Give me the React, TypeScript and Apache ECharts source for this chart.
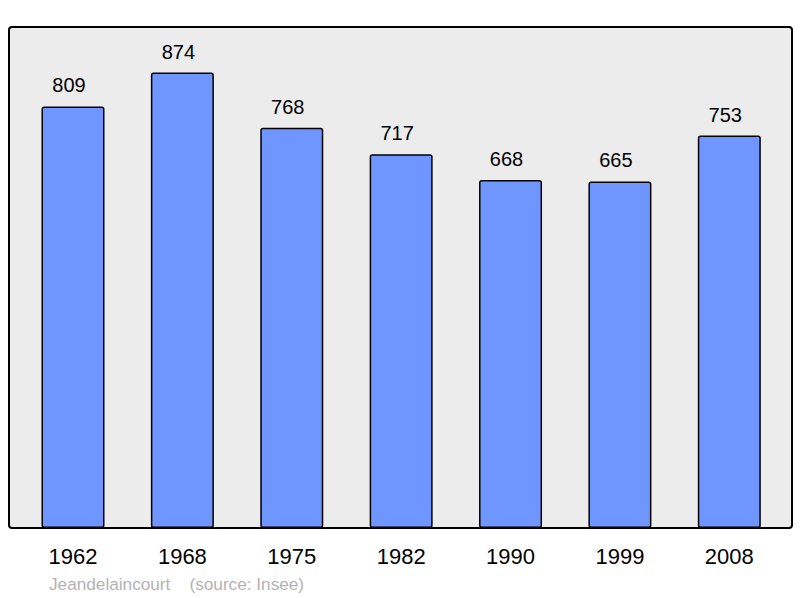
import React, { useEffect, useRef } from "react";
import * as echarts from "echarts";

const years = ["1962", "1968", "1975", "1982", "1990", "1999", "2008"];
const population = [809, 874, 768, 717, 668, 665, 753];
const footnote = "Jeandelaincourt    (source: Insee)";

export default function App() {
  const ref = useRef<HTMLDivElement>(null);
  useEffect(() => {
    if (!ref.current) return;
    const chart = echarts.init(ref.current, null, { renderer: "svg" });
    const maxVal = Math.max(...population) * 1.1;
    chart.setOption({
      animation: false,
      backgroundColor: "#ffffff",
      textStyle: { fontFamily: "Liberation Sans, Arial, sans-serif" },
      graphic: [
        {
          type: "rect",
          z: -10,
          silent: true,
          shape: { x: 9, y: 27, width: 783, height: 501, r: 3 },
          style: { fill: "#ececec", stroke: "#000000", lineWidth: 2 },
        },
        {
          type: "text",
          x: 49,
          y: 584,
          style: {
            text: footnote,
            fill: "#b3b3b3",
            fontSize: 17.2,
            fontFamily: "Liberation Sans, Arial, sans-serif",
            verticalAlign: "middle",
          },
        },
      ],
      grid: { left: 18.3, right: 16, top: 27, bottom: 70, containLabel: false },
      xAxis: {
        type: "category",
        data: years,
        axisLine: { show: false },
        axisTick: { show: false },
        axisLabel: {
          color: "#000",
          fontSize: 22,
          margin: 17,
          fontFamily: "Liberation Sans, Arial, sans-serif",
        },
      },
      yAxis: {
        type: "value",
        min: 0,
        max: maxVal,
        show: false,
        splitLine: { show: false },
      },
      series: [
        {
          type: "bar",
          data: population,
          barWidth: 63,
          itemStyle: {
            color: "#6f96ff",
            borderColor: "#000000",
            borderWidth: 1.5,
            borderRadius: 2,
          },
          label: {
            show: true,
            position: "top",
            distance: 11,
            offset: [-4, 0],
            color: "#000",
            fontSize: 20,
            fontFamily: "Liberation Sans, Arial, sans-serif",
          },
        },
      ],
    });
    return () => chart.dispose();
  }, []);
  return <div ref={ref} style={{ width: 800, height: 598, position: "absolute", left: 0, top: 0 }} />;
}
